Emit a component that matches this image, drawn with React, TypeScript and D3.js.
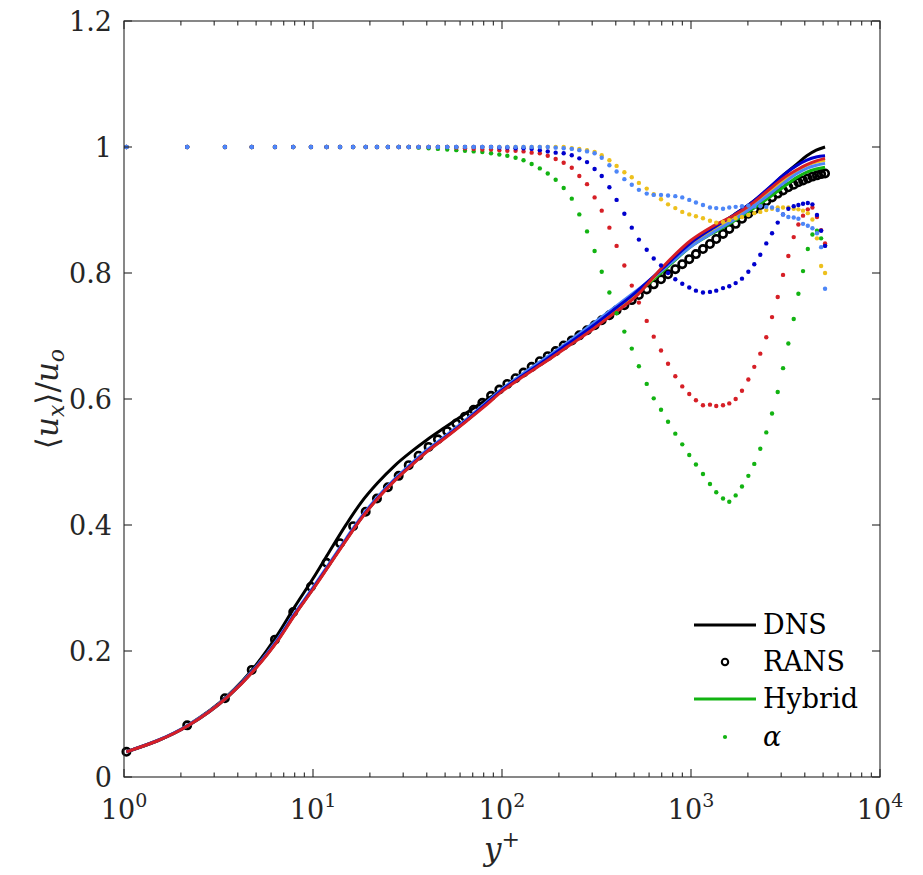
import React, { useEffect, useRef } from 'react';
import * as d3 from 'd3';

// RANS mesh points (y+), shared by the RANS markers and the alpha dots
const yPlusGrid = [
  1.03, 2.16, 3.42, 4.74, 6.29, 7.86, 9.75, 11.8, 13.9, 16.3,
  19.0, 21.8, 24.9, 28.4, 32.1, 36.2, 40.9, 45.8, 51.3, 57.3,
  63.7, 70.8, 78.7, 87.5, 96.8, 106.7, 118, 130, 143.5, 158.5,
  174.6, 192.3, 212, 234, 256.5, 281.8, 309, 337, 370, 404,
  444, 486, 530, 583, 635, 694, 756, 826, 899, 979,
  1062, 1157, 1260, 1360, 1477, 1594, 1723, 1861, 2011, 2162,
  2326, 2502, 2684, 2876, 3069, 3274, 3495, 3700, 3915, 4150,
  4390, 4640, 4880, 5120,
];

const ransU = [
  0.040, 0.082, 0.125, 0.170, 0.218, 0.262, 0.302, 0.340, 0.371, 0.398,
  0.421, 0.442, 0.460, 0.478, 0.495, 0.510, 0.524, 0.536, 0.549, 0.561,
  0.572, 0.583, 0.594, 0.605, 0.615, 0.624, 0.633, 0.642, 0.651, 0.660,
  0.668, 0.676, 0.685, 0.693, 0.701, 0.709, 0.717, 0.725, 0.733, 0.741,
  0.749, 0.757, 0.765, 0.774, 0.782, 0.790, 0.798, 0.806, 0.814, 0.822,
  0.830, 0.838, 0.846, 0.854, 0.862, 0.870, 0.878, 0.886, 0.894, 0.901,
  0.908, 0.914, 0.920, 0.926, 0.931, 0.936, 0.940, 0.944, 0.947, 0.950,
  0.953, 0.955, 0.957, 0.958,
];

const alphaGreen = [
  1, 1, 1, 1, 1, 1, 1, 1, 1, 1,
  1, 1, 1, 1, 1, 0.999, 0.998, 0.997, 0.996, 0.995,
  0.994, 0.993, 0.992, 0.990, 0.988, 0.986, 0.983, 0.979, 0.973, 0.966,
  0.958, 0.948, 0.935, 0.918, 0.893, 0.866, 0.835, 0.802, 0.769, 0.736,
  0.707, 0.680, 0.652, 0.624, 0.601, 0.583, 0.564, 0.545, 0.528, 0.511,
  0.496, 0.481, 0.465, 0.452, 0.442, 0.437, 0.447, 0.461, 0.478, 0.497,
  0.521, 0.547, 0.577, 0.611, 0.649, 0.688, 0.727, 0.767, 0.803, 0.838,
  0.861, 0.867, 0.855, 0.844,
];

const alphaRed = [
  1, 1, 1, 1, 1, 1, 1, 1, 1, 1,
  1, 1, 1, 1, 1, 1, 1, 1, 1, 0.999,
  0.998, 0.997, 0.996, 0.996, 0.995, 0.994, 0.994, 0.993, 0.991, 0.990,
  0.986, 0.981, 0.975, 0.967, 0.954, 0.941, 0.920, 0.899, 0.872, 0.843,
  0.812, 0.780, 0.753, 0.724, 0.699, 0.677, 0.656, 0.636, 0.620, 0.608,
  0.598, 0.590, 0.591, 0.589, 0.590, 0.593, 0.600, 0.613, 0.631, 0.651,
  0.672, 0.698, 0.730, 0.762, 0.797, 0.827, 0.857, 0.877, 0.891, 0.901,
  0.904, 0.889, 0.868, 0.847,
];

const alphaBlue = [
  1, 1, 1, 1, 1, 1, 1, 1, 1, 1,
  1, 1, 1, 1, 1, 1, 1, 1, 1, 1,
  1, 1, 1, 1, 0.999, 0.999, 0.998, 0.998, 0.997, 0.995,
  0.993, 0.991, 0.990, 0.987, 0.982, 0.976, 0.965, 0.954, 0.936, 0.916,
  0.894, 0.872, 0.853, 0.837, 0.823, 0.812, 0.800, 0.790, 0.783, 0.777,
  0.772, 0.769, 0.770, 0.772, 0.776, 0.779, 0.784, 0.791, 0.802, 0.814,
  0.829, 0.847, 0.863, 0.880, 0.893, 0.902, 0.906, 0.908, 0.910, 0.911,
  0.909, 0.892, 0.867, 0.843,
];

const alphaYellow = [
  1, 1, 1, 1, 1, 1, 1, 1, 1, 1,
  1, 1, 1, 1, 1, 1, 1, 1, 1, 1,
  1, 1, 1, 1, 1, 1, 1, 1, 1, 1,
  1, 1, 1, 0.998, 0.997, 0.995, 0.992, 0.987, 0.979, 0.970,
  0.960, 0.952, 0.943, 0.934, 0.925, 0.917, 0.909, 0.903, 0.897, 0.893,
  0.890, 0.887, 0.883, 0.880, 0.881, 0.884, 0.887, 0.889, 0.892, 0.895,
  0.897, 0.900, 0.902, 0.904, 0.904, 0.904, 0.902, 0.901, 0.899, 0.895,
  0.885, 0.855, 0.811, 0.800,
];

const alphaLightBlue = [
  1, 1, 1, 1, 1, 1, 1, 1, 1, 1,
  1, 1, 1, 1, 1, 1, 1, 1, 1, 1,
  1, 1, 1, 1, 1, 1, 1, 1, 1, 1,
  1, 0.999, 0.998, 0.997, 0.995, 0.993, 0.990, 0.983, 0.971, 0.961,
  0.949, 0.940, 0.932, 0.926, 0.924, 0.924, 0.923, 0.922, 0.920, 0.916,
  0.912, 0.908, 0.904, 0.903, 0.902, 0.904, 0.905, 0.906, 0.907, 0.906,
  0.906, 0.905, 0.904, 0.900, 0.893, 0.889, 0.888, 0.886, 0.878, 0.875,
  0.871, 0.863, 0.841, 0.775,
];

// y+ stations for the continuous profiles
const lineYPlus = [
  1.03, 2.2, 3.5, 5, 6.5, 8, 10, 12, 15, 18,
  22, 27, 33, 40, 50, 65, 80, 100, 130, 170,
  220, 300, 400, 500, 700, 1000, 1300, 1700, 2100, 2600,
  3100, 3600, 4100, 4600, 5120,
];

const dnsU = [
  0.040, 0.083, 0.128, 0.178, 0.226, 0.270, 0.315, 0.354, 0.401, 0.436,
  0.467, 0.494, 0.516, 0.535, 0.555, 0.578, 0.596, 0.615, 0.638, 0.660,
  0.684, 0.714, 0.742, 0.763, 0.805, 0.848, 0.871, 0.893, 0.912, 0.935,
  0.956, 0.972, 0.986, 0.995, 1.000,
];

const hybridRed = [
  0.040, 0.082, 0.126, 0.173, 0.216, 0.257, 0.298, 0.333, 0.376, 0.410,
  0.442, 0.470, 0.494, 0.516, 0.538, 0.565, 0.587, 0.612, 0.636, 0.659,
  0.682, 0.710, 0.738, 0.760, 0.808, 0.852, 0.874, 0.892, 0.910, 0.933,
  0.951, 0.963, 0.972, 0.978, 0.982,
];

const hybridBlue = [
  0.040, 0.082, 0.126, 0.174, 0.217, 0.258, 0.299, 0.334, 0.377, 0.411,
  0.443, 0.471, 0.495, 0.517, 0.539, 0.566, 0.589, 0.614, 0.638, 0.662,
  0.686, 0.715, 0.744, 0.767, 0.806, 0.848, 0.871, 0.893, 0.912, 0.936,
  0.956, 0.970, 0.979, 0.984, 0.986,
];

const hybridYellow = [
  0.040, 0.082, 0.126, 0.174, 0.217, 0.258, 0.299, 0.334, 0.377, 0.411,
  0.443, 0.471, 0.495, 0.517, 0.539, 0.566, 0.589, 0.614, 0.638, 0.661,
  0.685, 0.714, 0.743, 0.765, 0.804, 0.845, 0.868, 0.889, 0.908, 0.930,
  0.948, 0.962, 0.971, 0.976, 0.979,
];

const hybridLightBlue = [
  0.040, 0.083, 0.127, 0.175, 0.219, 0.260, 0.301, 0.336, 0.379, 0.413,
  0.445, 0.473, 0.497, 0.519, 0.541, 0.568, 0.591, 0.616, 0.641, 0.665,
  0.689, 0.719, 0.747, 0.769, 0.804, 0.842, 0.864, 0.885, 0.904, 0.925,
  0.943, 0.957, 0.966, 0.971, 0.974,
];

const hybridGreen = [
  0.040, 0.082, 0.126, 0.174, 0.217, 0.258, 0.299, 0.334, 0.377, 0.411,
  0.443, 0.471, 0.495, 0.517, 0.539, 0.566, 0.589, 0.614, 0.638, 0.661,
  0.685, 0.713, 0.742, 0.764, 0.801, 0.842, 0.863, 0.883, 0.901, 0.920,
  0.937, 0.951, 0.960, 0.965, 0.968,
];

const yTicks = [0, 0.2, 0.4, 0.6, 0.8, 1, 1.2];
const xDecades = [0, 1, 2, 3, 4];
const legendLabels = ['DNS', 'RANS', 'Hybrid', 'α'];

const GREEN = '#12b312';
const RED = '#d61f26';
const BLUE = '#0000cd';
const LIGHTBLUE = '#4d86f7';
const YELLOW = '#edc01d';
const AXIS = '#262626';
const FONT = "'DejaVu Serif', serif";

const WIDTH = 923;
const HEIGHT = 875;

const ProfileChart: React.FC = () => {
  const ref = useRef<SVGSVGElement>(null);

  useEffect(() => {
    if (!ref.current) return;
    const svg = d3.select(ref.current);
    svg.selectAll('*').remove();

    const x = d3.scaleLog().domain([1, 1e4]).range([124, 880]);
    const y = d3.scaleLinear().domain([0, 1.2]).range([777, 21]);

    const line = d3
      .line<[number, number]>()
      .x((d) => x(d[0]))
      .y((d) => y(d[1]))
      .curve(d3.curveMonotoneX);

    const plot = svg.append('g');

    // DNS
    plot
      .append('path')
      .attr('d', line(lineYPlus.map((v, i) => [v, dnsU[i]] as [number, number])))
      .attr('fill', 'none')
      .attr('stroke', '#000')
      .attr('stroke-width', 3);

    // RANS markers
    plot
      .selectAll('.rans')
      .data(yPlusGrid)
      .enter()
      .append('circle')
      .attr('class', 'rans')
      .attr('cx', (d) => x(d))
      .attr('cy', (d, i) => y(ransU[i]))
      .attr('r', 3.7)
      .attr('fill', 'none')
      .attr('stroke', '#000')
      .attr('stroke-width', 2.6);

    // hybrid profiles
    const lines = [
      { color: GREEN, values: hybridGreen },
      { color: YELLOW, values: hybridYellow },
      { color: LIGHTBLUE, values: hybridLightBlue },
      { color: BLUE, values: hybridBlue },
      { color: RED, values: hybridRed },
    ];
    lines.forEach((s) => {
      plot
        .append('path')
        .attr('d', line(lineYPlus.map((v, i) => [v, s.values[i]] as [number, number])))
        .attr('fill', 'none')
        .attr('stroke', s.color)
        .attr('stroke-width', 3);
    });

    // alpha dots
    const dots = [
      { color: GREEN, values: alphaGreen },
      { color: RED, values: alphaRed },
      { color: YELLOW, values: alphaYellow },
      { color: BLUE, values: alphaBlue },
      { color: LIGHTBLUE, values: alphaLightBlue },
    ];
    dots.forEach((s) => {
      plot
        .append('g')
        .selectAll('circle')
        .data(yPlusGrid)
        .enter()
        .append('circle')
        .attr('cx', (d) => x(d))
        .attr('cy', (d, i) => y(s.values[i]))
        .attr('r', 2.2)
        .attr('fill', s.color);
    });

    // axes box and ticks
    const ax = svg.append('g').attr('stroke', AXIS).attr('stroke-width', 1.1);
    ax.append('rect')
      .attr('x', 124)
      .attr('y', 21)
      .attr('width', 756)
      .attr('height', 756)
      .attr('fill', 'none');

    yTicks.forEach((t) => {
      ax.append('line').attr('x1', 124).attr('x2', 132).attr('y1', y(t)).attr('y2', y(t));
      ax.append('line').attr('x1', 880).attr('x2', 872).attr('y1', y(t)).attr('y2', y(t));
    });

    x.ticks().forEach((t) => {
      const major = Math.abs(Math.log10(t) - Math.round(Math.log10(t))) < 1e-9;
      const len = major ? 8 : 4.5;
      ax.append('line').attr('x1', x(t)).attr('x2', x(t)).attr('y1', 777).attr('y2', 777 - len);
      ax.append('line').attr('x1', x(t)).attr('x2', x(t)).attr('y1', 21).attr('y2', 21 + len);
    });

    const labels = svg.append('g').style('font-family', FONT).attr('fill', AXIS);

    labels
      .selectAll('.ytl')
      .data(yTicks)
      .enter()
      .append('text')
      .attr('class', 'ytl')
      .attr('x', 112)
      .attr('y', (d) => y(d) + 10)
      .attr('text-anchor', 'end')
      .style('font-family', FONT)
      .style('font-size', '27px')
      .text((d) => (d === 0 ? '0' : d === 1 ? '1' : d.toFixed(1)));

    xDecades.forEach((e) => {
      const t = labels
        .append('text')
        .attr('x', x(Math.pow(10, e)))
        .attr('y', 819)
        .attr('text-anchor', 'middle')
        .style('font-family', FONT)
        .style('font-size', '27px');
      t.append('tspan').text('10');
      t.append('tspan').attr('dy', -12).style('font-size', '19px').text(String(e));
    });

    // axis titles
    const yl = labels
      .append('text')
      .attr('transform', 'translate(58,399) rotate(-90)')
      .attr('text-anchor', 'middle')
      .style('font-family', FONT)
      .style('font-size', '31px');
    yl.append('tspan').text('⟨');
    yl.append('tspan').style('font-style', 'italic').text('u');
    yl.append('tspan').style('font-style', 'italic').style('font-size', '22px').attr('dy', 6).text('x');
    yl.append('tspan').attr('dy', -6).text('⟩/');
    yl.append('tspan').style('font-style', 'italic').text('u');
    yl.append('tspan').style('font-style', 'italic').style('font-size', '22px').attr('dy', 6).text('o');

    const xl = labels
      .append('text')
      .attr('x', 502)
      .attr('y', 860)
      .attr('text-anchor', 'middle')
      .style('font-family', FONT)
      .style('font-size', '31px');
    xl.append('tspan').style('font-style', 'italic').text('y');
    xl.append('tspan').style('font-size', '22px').attr('dy', -13).text('+');

    // legend
    const lg = svg.append('g');
    const rowY = [625, 662, 699, 737];
    lg.append('line').attr('x1', 694).attr('x2', 756).attr('y1', rowY[0]).attr('y2', rowY[0])
      .attr('stroke', '#000').attr('stroke-width', 3);
    lg.append('circle').attr('cx', 725).attr('cy', rowY[1]).attr('r', 3.2)
      .attr('fill', 'none').attr('stroke', '#000').attr('stroke-width', 2.1);
    lg.append('line').attr('x1', 694).attr('x2', 756).attr('y1', rowY[2]).attr('y2', rowY[2])
      .attr('stroke', GREEN).attr('stroke-width', 3);
    lg.append('circle').attr('cx', 725).attr('cy', rowY[3]).attr('r', 2.1).attr('fill', GREEN);

    legendLabels.forEach((s, i) => {
      lg.append('text')
        .attr('x', 763)
        .attr('y', rowY[i] + 9)
        .style('font-family', FONT)
        .style('font-size', '27px')
        .style('font-style', s === 'α' ? 'italic' : 'normal')
        .attr('fill', '#000')
        .text(s);
    });
  }, []);

  return (
    <svg
      ref={ref}
      width={WIDTH}
      height={HEIGHT}
      style={{ position: 'absolute', left: 0, top: 0, background: '#fff' }}
    ></svg>
  );
};

export default function App() {
  return <ProfileChart />;
}
